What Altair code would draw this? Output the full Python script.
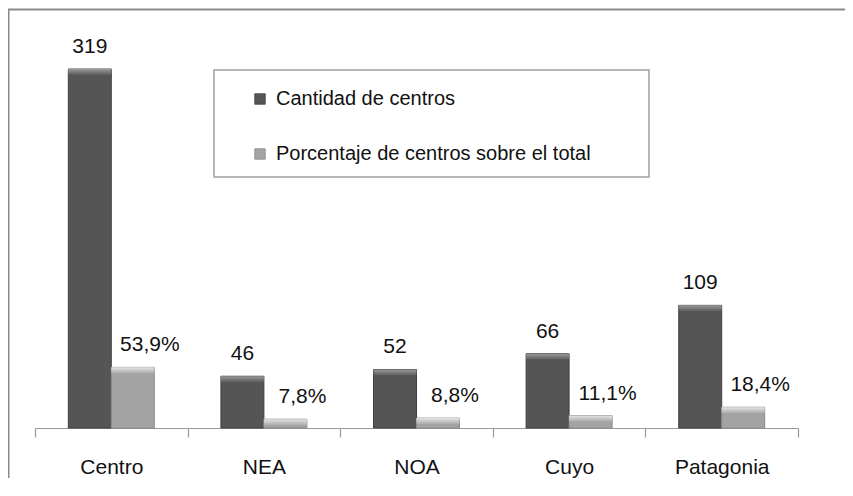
import altair as alt
import pandas as pd

regiones = ["Centro", "NEA", "NOA", "Cuyo", "Patagonia"]
cantidad = [319, 46, 52, 66, 109]
porcentaje = [53.9, 7.8, 8.8, 11.1, 18.4]
series = ["Cantidad de centros", "Porcentaje de centros sobre el total"]
colores = ["#555555", "#a3a3a3"]
bordes = ["#404040", "#8a8a8a"]

rows = []
for r, c, p in zip(regiones, cantidad, porcentaje):
    rows.append({"region": r, "serie": series[0], "valor": c, "etiqueta": str(c)})
    rows.append({"region": r, "serie": series[1], "valor": p,
                 "etiqueta": f"{p:.1f}".replace(".", ",") + "%"})
df = pd.DataFrame(rows)

FONT = "Liberation Sans"

x_enc = alt.X("region:N", sort=regiones, title=None,
              scale=alt.Scale(paddingInner=0, paddingOuter=0),
              axis=alt.Axis(labelAngle=0, labelFontSize=21, labelFont=FONT,
                            labelColor="#111111", labelBaseline="alphabetic",
                            labelPadding=36, tickSize=9, tickBand="extent",
                            tickColor="#999999", domainColor="#999999",
                            domainWidth=1.2, tickWidth=1.2))
xo_enc = alt.XOffset("serie:N", sort=series,
                     scale=alt.Scale(paddingInner=0, paddingOuter=0.775))
y_enc = alt.Y("valor:Q", title=None, axis=None,
              scale=alt.Scale(domain=[0, 353.7], nice=False))

base = alt.Chart(df)

border = alt.Chart(alt.Data(values=[{}])).mark_rect(
    filled=False, stroke="#8a8a8a", strokeWidth=2
).encode(x=alt.value(-26.5), x2=alt.value(850), y=alt.value(-20.5), y2=alt.value(700))

legbox = alt.Chart(alt.Data(values=[{}])).mark_rect(
    fill="white", stroke="#a0a0a0", strokeWidth=1.5
).encode(x=alt.value(179), x2=alt.value(614), y=alt.value(40), y2=alt.value(147))

bars = base.mark_bar(strokeWidth=1).encode(
    x=x_enc, xOffset=xo_enc, y=y_enc,
    color=alt.Color("serie:N", sort=series,
                    scale=alt.Scale(domain=series, range=colores),
                    legend=alt.Legend(title=None, orient="none", legendX=215,
                                      legendY=59, symbolType="square",
                                      symbolSize=110, symbolStrokeWidth=0.8,
                                      symbolStrokeColor="#555555",
                                      labelFontSize=20, labelFont=FONT,
                                      labelColor="#111111", labelOffset=6,
                                      labelLimit=0,
                                      rowPadding=35, padding=0)),
    stroke=alt.Stroke("serie:N", sort=series,
                      scale=alt.Scale(domain=series, range=bordes), legend=None),
)

def strip(serie, c1, c2):
    return base.transform_filter(alt.datum.serie == serie).mark_rect(
        y2Offset=6,
        fill=alt.Gradient(gradient="linear",
                          stops=[alt.GradientStop(color=c1, offset=0),
                                 alt.GradientStop(color=c2, offset=1)],
                          x1=0, x2=0, y1=0, y2=1),
        xOffset=1, x2Offset=-1,
    ).encode(x=x_enc, xOffset=xo_enc, y=y_enc, y2="valor:Q")

strip1 = strip(series[0], "#9a9a9a", "#5a5a5a")
strip2 = strip(series[1], "#e4e4e4", "#aaaaaa")

labels_c = base.transform_filter(alt.datum.serie == series[0]).mark_text(
    baseline="alphabetic", dy=-16, fontSize=21, font=FONT, color="#111111"
).encode(x=x_enc, xOffset=xo_enc, y=y_enc, text="etiqueta:N")

labels_p = base.transform_filter(alt.datum.serie == series[1]).mark_text(
    baseline="alphabetic", dy=-16, dx=17, fontSize=21, font=FONT, color="#111111"
).encode(x=x_enc, xOffset=xo_enc, y=y_enc, text="etiqueta:N")

chart = alt.layer(border, legbox, bars, strip1, strip2, labels_c, labels_p).properties(
    width=763, height=398,
    autosize=alt.AutoSizeParams(type="none"),
    padding={"left": 27, "top": 22, "right": 47, "bottom": 50},
    background="white",
).configure_view(stroke=None)

chart.save("out.html", embed_options={"renderer": "svg", "actions": False})
